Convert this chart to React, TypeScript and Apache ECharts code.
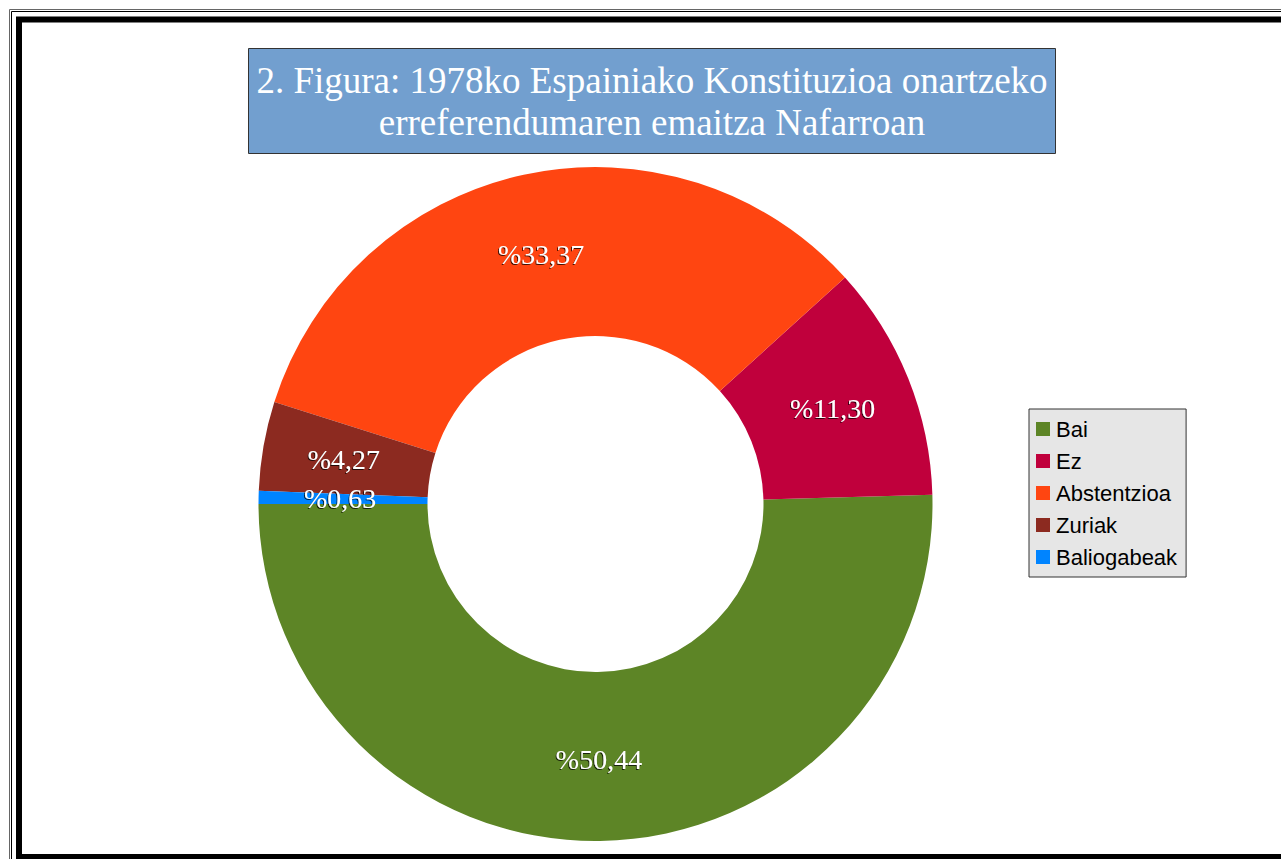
import React, { useEffect, useRef } from "react";
import * as echarts from "echarts";

const categories = ["Bai", "Ez", "Abstentzioa", "Zuriak", "Baliogabeak"];
const values = [50.44, 11.3, 33.37, 4.27, 0.63];
const colors = ["#5d8526", "#c0003c", "#ff4511", "#8c2a20", "#0084ff"];
const titleLines = [
  "2. Figura: 1978ko Espainiako Konstituzioa onartzeko",
  "erreferendumaren emaitza Nafarroan",
];

export default function App() {
  const ref = useRef<HTMLDivElement>(null);
  useEffect(() => {
    if (!ref.current) return;
    const chart = echarts.init(ref.current, null, { renderer: "svg" });
    const data = categories.map((name, i) => ({
      name,
      value: values[i],
      itemStyle: { color: colors[i] },
    }));
    chart.setOption({
      animation: false,
      backgroundColor: "#ffffff",
      legend: {
        orient: "vertical",
        left: 1029,
        top: 409,
        data: categories,
        icon: "rect",
        itemWidth: 14,
        itemHeight: 14,
        itemGap: 10,
        selectedMode: false,
        backgroundColor: "#e6e6e6",
        borderColor: "#333333",
        borderWidth: 1,
        borderRadius: 0,
        padding: [9, 9, 9, 7],
        textStyle: {
          fontFamily: "Liberation Sans",
          fontSize: 22,
          color: "#000000",
          padding: [0, 0, 0, 1],
        },
      },
      series: [
        {
          type: "pie",
          center: [595.5, 504],
          radius: [168, 337],
          startAngle: 180,
          clockwise: false,
          avoidLabelOverlap: false,
          data,
          label: {
            show: true,
            position: "inside",
            formatter: (p: any) => "%" + Number(p.value).toFixed(2).replace(".", ","),
            fontFamily: "Liberation Serif",
            fontSize: 28,
            color: "#ffffff",
            textShadowColor: "rgba(0,0,0,0.75)",
            textShadowBlur: 1,
            textShadowOffsetX: -1,
            textShadowOffsetY: 1,
          },
          labelLine: { show: false },
          emphasis: { disabled: true },
        },
      ],
      graphic: [
        {
          type: "rect",
          shape: { x: 9.5, y: 9.5, width: 1400, height: 900 },
          style: { fill: "none", stroke: "#666666", lineWidth: 1 },
          silent: true,
        },
        {
          type: "rect",
          shape: { x: 11.5, y: 11.5, width: 1400, height: 900 },
          style: { fill: "none", stroke: "#000000", lineWidth: 1 },
          silent: true,
        },
        {
          type: "rect",
          shape: { x: 19, y: 19.5, width: 1400, height: 837.5 },
          style: { fill: "none", stroke: "#000000", lineWidth: 6 },
          silent: true,
        },
        {
          type: "rect",
          shape: { x: 248.5, y: 48.5, width: 807, height: 105 },
          style: { fill: "#729fcf", stroke: "#333333", lineWidth: 1 },
          silent: true,
        },
        {
          type: "text",
          x: 652,
          y: 80,
          style: {
            text: titleLines[0],
            fill: "#ffffff",
            font: "37px 'Liberation Serif'",
            textAlign: "center",
            textVerticalAlign: "middle",
          },
          silent: true,
        },
        {
          type: "text",
          x: 652,
          y: 122,
          style: {
            text: titleLines[1],
            fill: "#ffffff",
            font: "37px 'Liberation Serif'",
            textAlign: "center",
            textVerticalAlign: "middle",
          },
          silent: true,
        },
      ],
    });
    return () => chart.dispose();
  }, []);
  return (
    <div
      ref={ref}
      style={{ position: "fixed", left: 0, top: 0, width: 1281, height: 859 }}
    />
  );
}
